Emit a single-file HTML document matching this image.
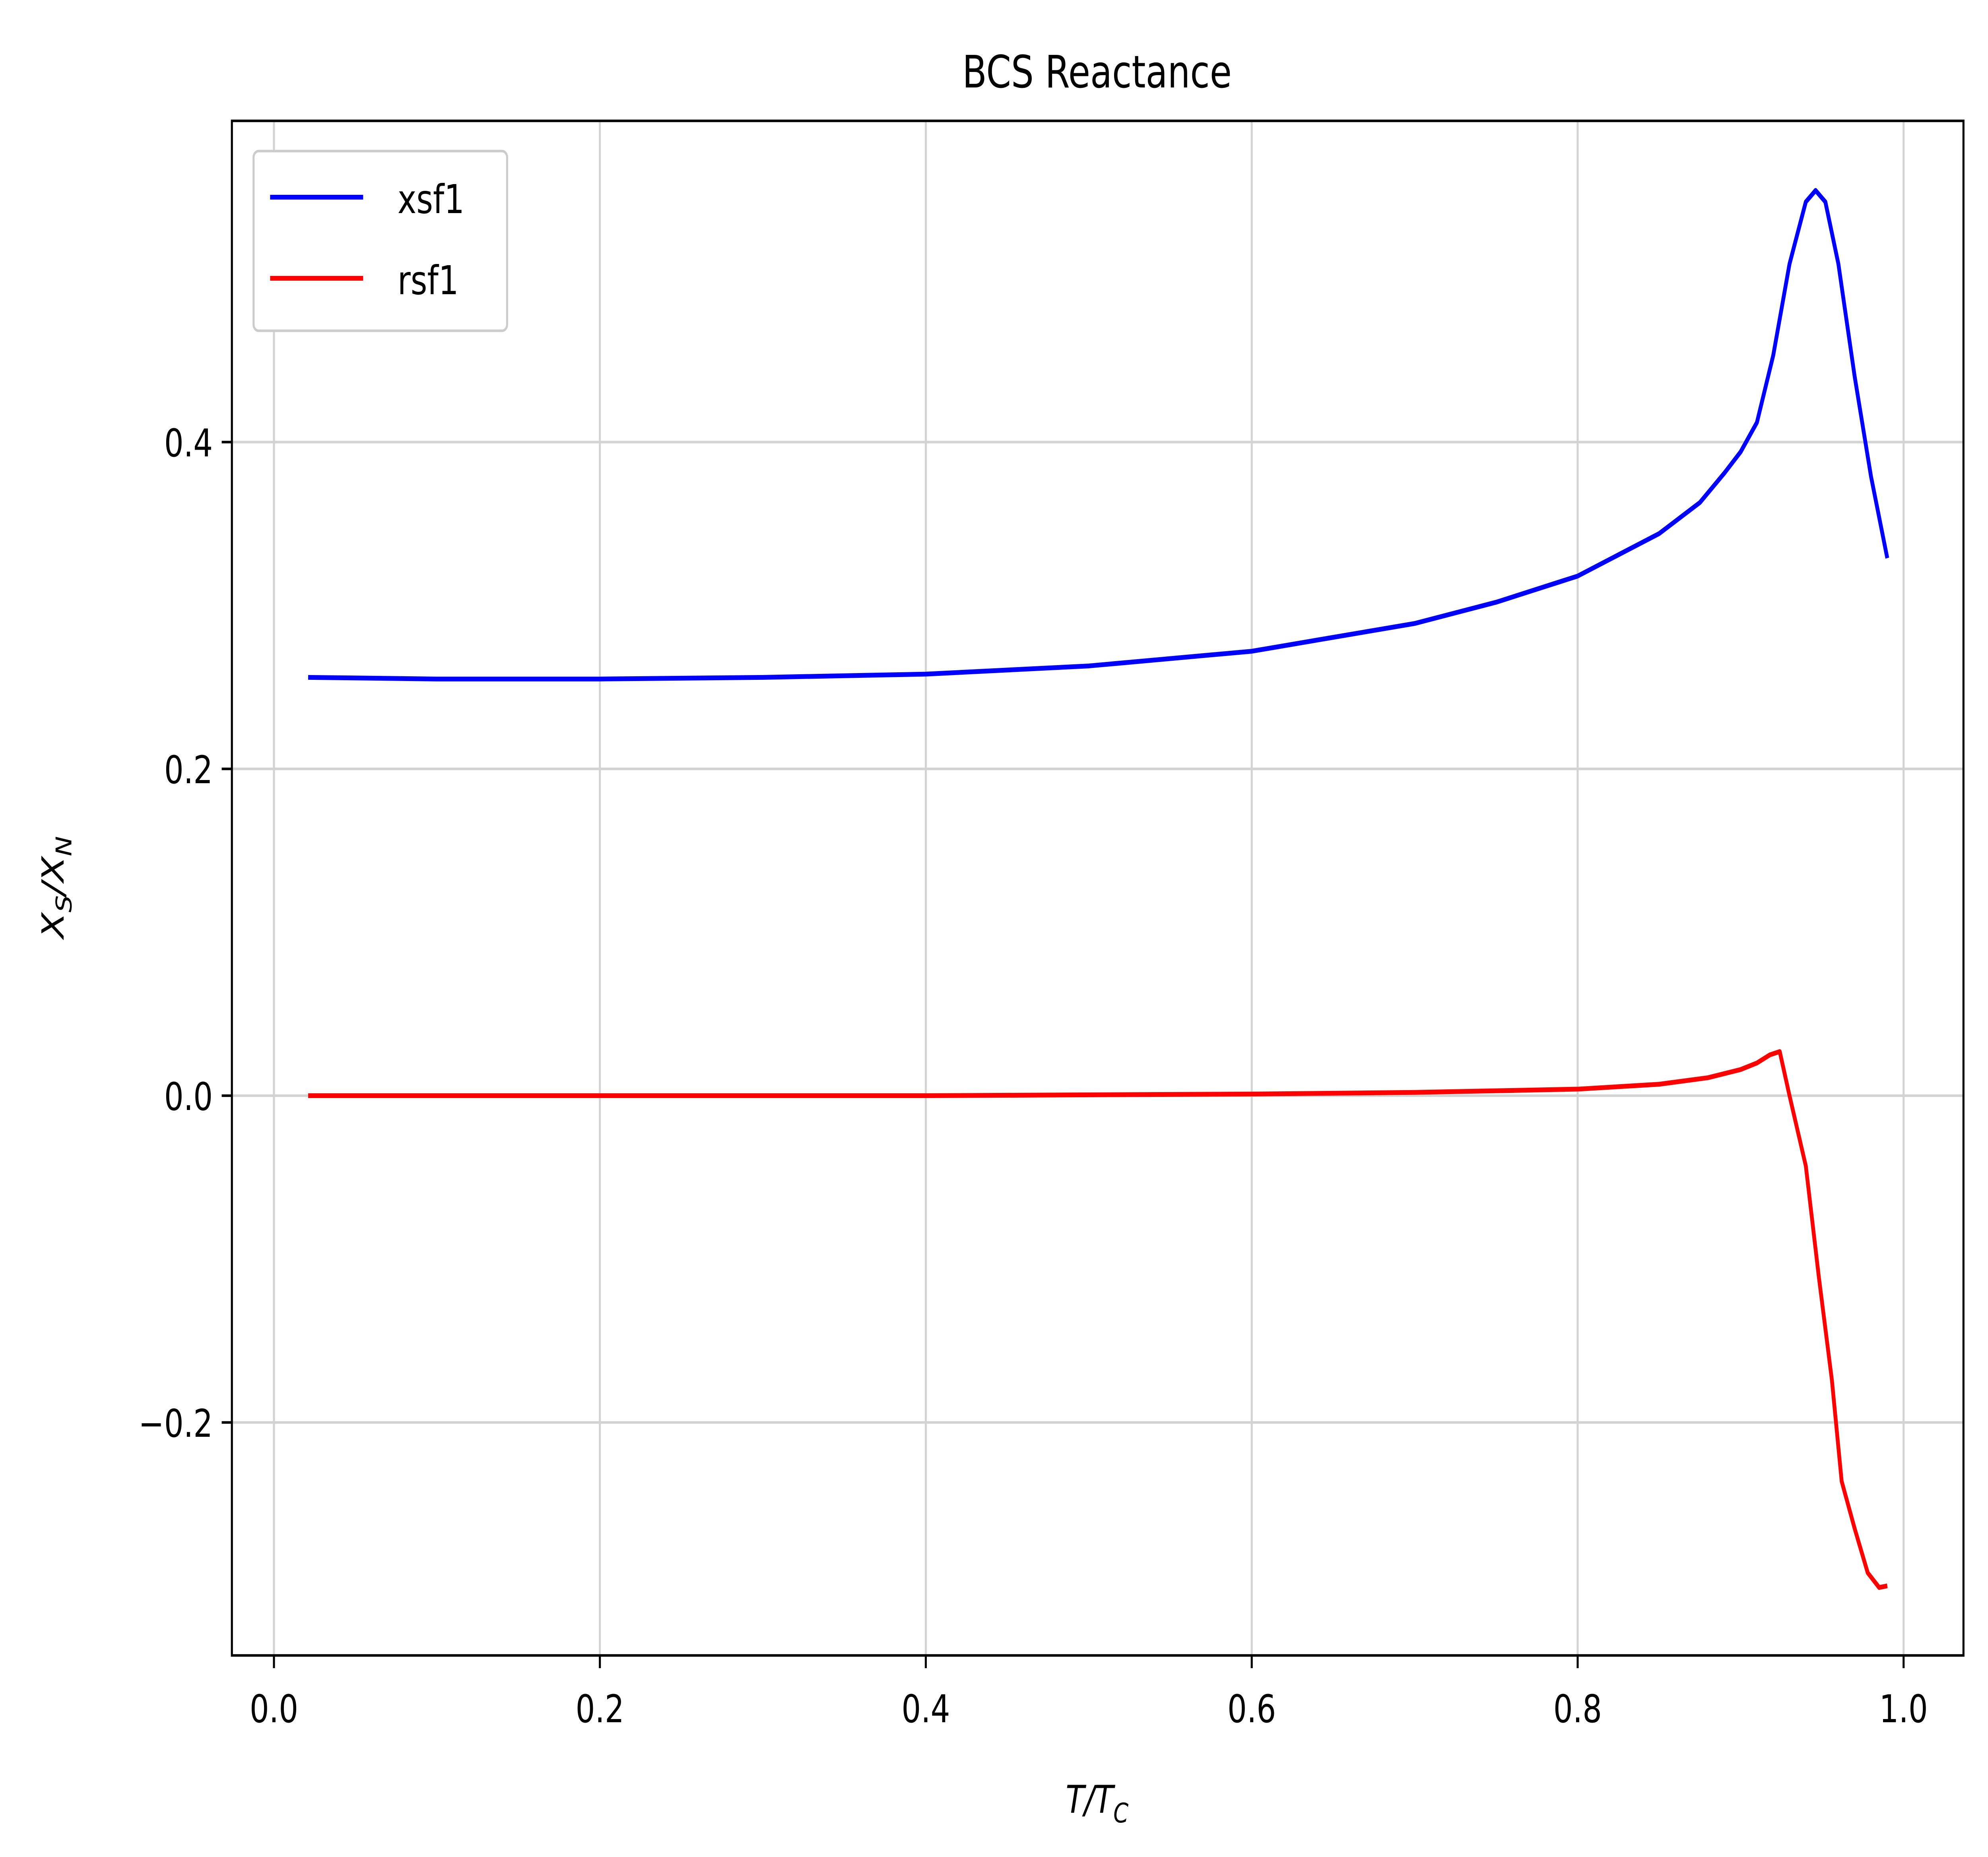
<!DOCTYPE html>
<html><head><meta charset="utf-8"><style>
html,body{margin:0;padding:0;background:#fff;width:100%;height:100%;overflow:hidden}
svg{display:block;width:100vw;height:100vh;max-width:6241px;max-height:4671px}
text{font-family:"DejaVu Sans","Liberation Sans",sans-serif;fill:#000}
</style></head><body>
<svg id="chart" viewBox="0 0 1560.25 1167.75" preserveAspectRatio="none" xmlns="http://www.w3.org/2000/svg">
<rect width="1560.25" height="1167.75" fill="#fff"/>
<g id="grid"></g>
<g id="series"></g>
<rect x="182" y="76" width="1359" height="965" fill="none" stroke="#000" stroke-width="1.6"/>
<g id="ticks"></g>
<text x="861" y="55" font-size="28" text-anchor="middle">BCS Reactance</text>
<text x="861" y="1140" font-size="24" text-anchor="middle" font-style="italic">T/T<tspan font-size="17" dy="6">C</tspan></text>
<text transform="translate(50,558) rotate(-90)" font-size="24" text-anchor="middle" font-style="italic">X<tspan font-size="17" dy="6">S</tspan><tspan dy="-6">/X</tspan><tspan font-size="17" dy="6">N</tspan></text>
<g>
<rect x="199" y="95" width="199" height="113" rx="4" fill="#fff" stroke="#ccc" stroke-width="1.6"/>
<line x1="212" y1="124" x2="285" y2="124" stroke="#0000ff" stroke-width="3"/>
<text x="312" y="134" font-size="25">xsf1</text>
<line x1="212" y1="175" x2="285" y2="175" stroke="#ff0000" stroke-width="3"/>
<text x="312" y="185" font-size="25">rsf1</text>
</g>
</svg>
<script>
const xTicks=[0.0,0.2,0.4,0.6,0.8,1.0];
const xTickLabels=["0.0","0.2","0.4","0.6","0.8","1.0"];
const yTicks=[-0.2,0.0,0.2,0.4];
const yTickLabels=["\u22120.2","0.0","0.2","0.4"];
const xsfT=[0.021,0.1,0.2,0.3,0.4,0.5,0.6,0.7,0.75,0.8,0.85,0.875,0.89,0.9,0.91,0.92,0.93,0.94,0.946,0.952,0.96,0.97,0.98,0.99];
const xsfV=[0.256,0.255,0.255,0.256,0.258,0.263,0.272,0.289,0.302,0.318,0.344,0.363,0.381,0.394,0.412,0.453,0.509,0.547,0.554,0.547,0.509,0.44,0.379,0.329];
const rsfT=[0.021,0.2,0.4,0.6,0.7,0.8,0.85,0.88,0.9,0.91,0.918,0.924,0.93,0.94,0.948,0.956,0.962,0.97,0.978,0.985,0.99];
const rsfV=[0.0,0.0,0.0,0.001,0.002,0.004,0.007,0.011,0.016,0.020,0.025,0.027,0.0,-0.043,-0.111,-0.174,-0.236,-0.265,-0.292,-0.301,-0.300];
const NS="http://www.w3.org/2000/svg";
function xs(v){return 215+v*1279;}
function ys(v){return 689-v*1027.5;}
function mk(t,a,p){const e=document.createElementNS(NS,t);for(const k in a)e.setAttribute(k,a[k]);p.appendChild(e);return e;}
const grid=document.getElementById('grid'),ticks=document.getElementById('ticks'),series=document.getElementById('series');
xTicks.forEach((v,i)=>{
 const g=mk('line',{x1:xs(v),x2:xs(v),y1:76,y2:1041,stroke:'#d3d3d3','stroke-width':1.6},grid);
 
 
 const t=mk('line',{x1:xs(v),x2:xs(v),y1:1041,y2:1049,stroke:'#000','stroke-width':1.6},ticks);
 
 
 const l=mk('text',{x:xs(v),y:1083,'font-size':24,'text-anchor':'middle'},ticks);
 l.textContent=xTickLabels[i];
 
 
});
yTicks.forEach((v,i)=>{
 const g=mk('line',{x1:182,x2:1541,y1:ys(v),y2:ys(v),stroke:'#d3d3d3','stroke-width':1.6},grid);
 
 
 const t=mk('line',{x1:174,x2:182,y1:ys(v),y2:ys(v),stroke:'#000','stroke-width':1.6},ticks);
 
 
 const l=mk('text',{x:167,y:ys(v)+9,'font-size':24,'text-anchor':'end'},ticks);
 l.textContent=yTickLabels[i];
 
 
});
function line(T,V,c,name){
 const p=mk('polyline',{points:T.map((t,i)=>xs(t)+','+ys(V[i])).join(' '),fill:'none',stroke:c,'stroke-width':3,'stroke-linejoin':'round'},series);
 
 
}
line(xsfT,xsfV,'#0000ff','xsf1-line');
line(rsfT,rsfV,'#ff0000','rsf1-line');
</script>
</body></html>
